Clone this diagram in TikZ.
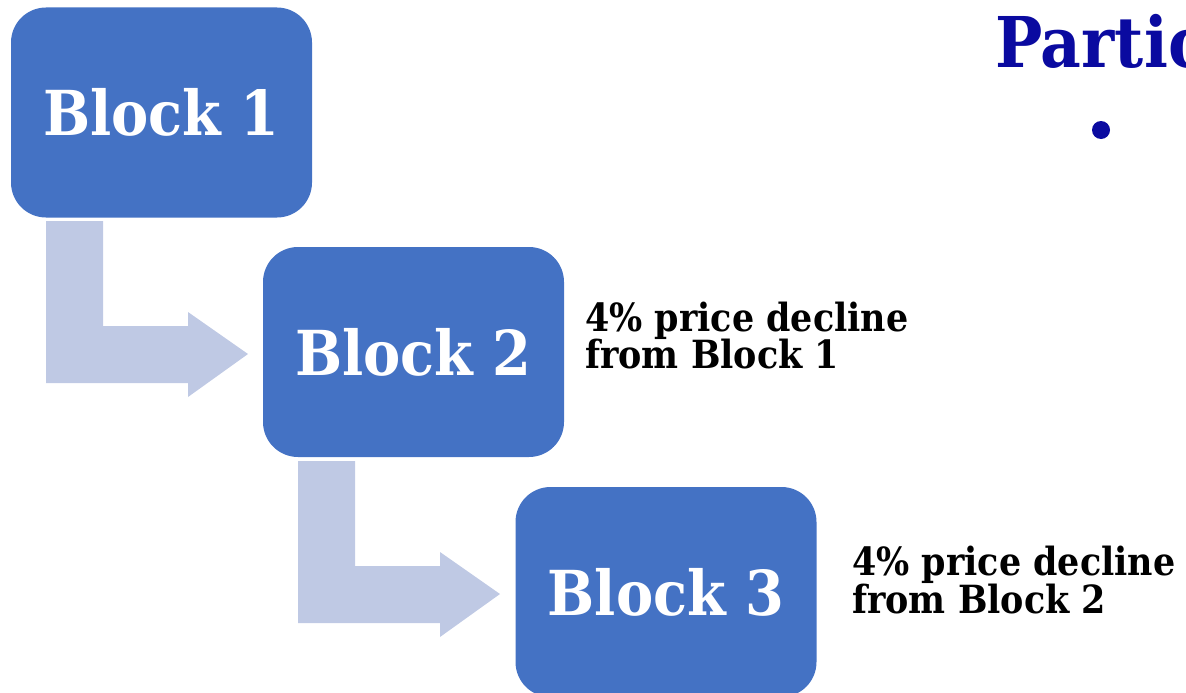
\documentclass[tikz,border=0pt]{standalone}
\usepackage{fontspec}
\setmainfont{DejaVu Serif}[FakeStretch=0.9]
\definecolor{blockblue}{HTML}{4472C4}
\definecolor{arrowblue}{HTML}{BFC9E4}
\definecolor{titleblue}{RGB}{10,10,160}
\tikzset{
  blockbox/.style={fill=blockblue, draw=none, rounded corners=35pt, inner sep=0pt,
    minimum width=301pt, minimum height=210pt, text=white,
    font=\bfseries\fontsize{62}{62}\selectfont},
  labeltext/.style={anchor=base west, inner sep=0pt, text=black,
    font=\bfseries\fontsize{38.8}{38.8}\selectfont},
  bentarrow/.style={fill=arrowblue, draw=none}
}
\begin{document}
\begin{tikzpicture}[x=1pt,y=-1pt]
\useasboundingbox (0,0) rectangle (1186,693);
\clip (0,0) rectangle (1186,693);
% blocks
\node[blockbox] (b1) at (161.5,112.5) {Block 1};
\node[blockbox] (b2) at (413.5,352) {Block 2};
\node[blockbox] (b3) at (666,592) {Block 3};
% bent arrows
\fill[bentarrow] (46,221) -- (103,221) -- (103,326) -- (188,326) -- (188,312)
  -- (248,354) -- (188,397) -- (188,383) -- (46,383) -- cycle;
\begin{scope}[shift={(252,240)}]
\fill[bentarrow] (46,221) -- (103,221) -- (103,326) -- (188,326) -- (188,312)
  -- (248,354) -- (188,397) -- (188,383) -- (46,383) -- cycle;
\end{scope}
% labels
\node[labeltext] (l1a) at (585,331) {4\% price decline};
\node[labeltext] (l1b) at (585,368) {from Block 1};
\node[labeltext] (l2a) at (852,575) {4\% price decline};
\node[labeltext] (l2b) at (852,613) {from Block 2};
% title and bullet
\node[anchor=base west, inner sep=0pt, text=titleblue,
  font=\bfseries\fontsize{70}{70}\selectfont] (title) at (995,67) {Partic};
\fill[titleblue] (1101,130) circle (9pt);
\end{tikzpicture}
\end{document}
